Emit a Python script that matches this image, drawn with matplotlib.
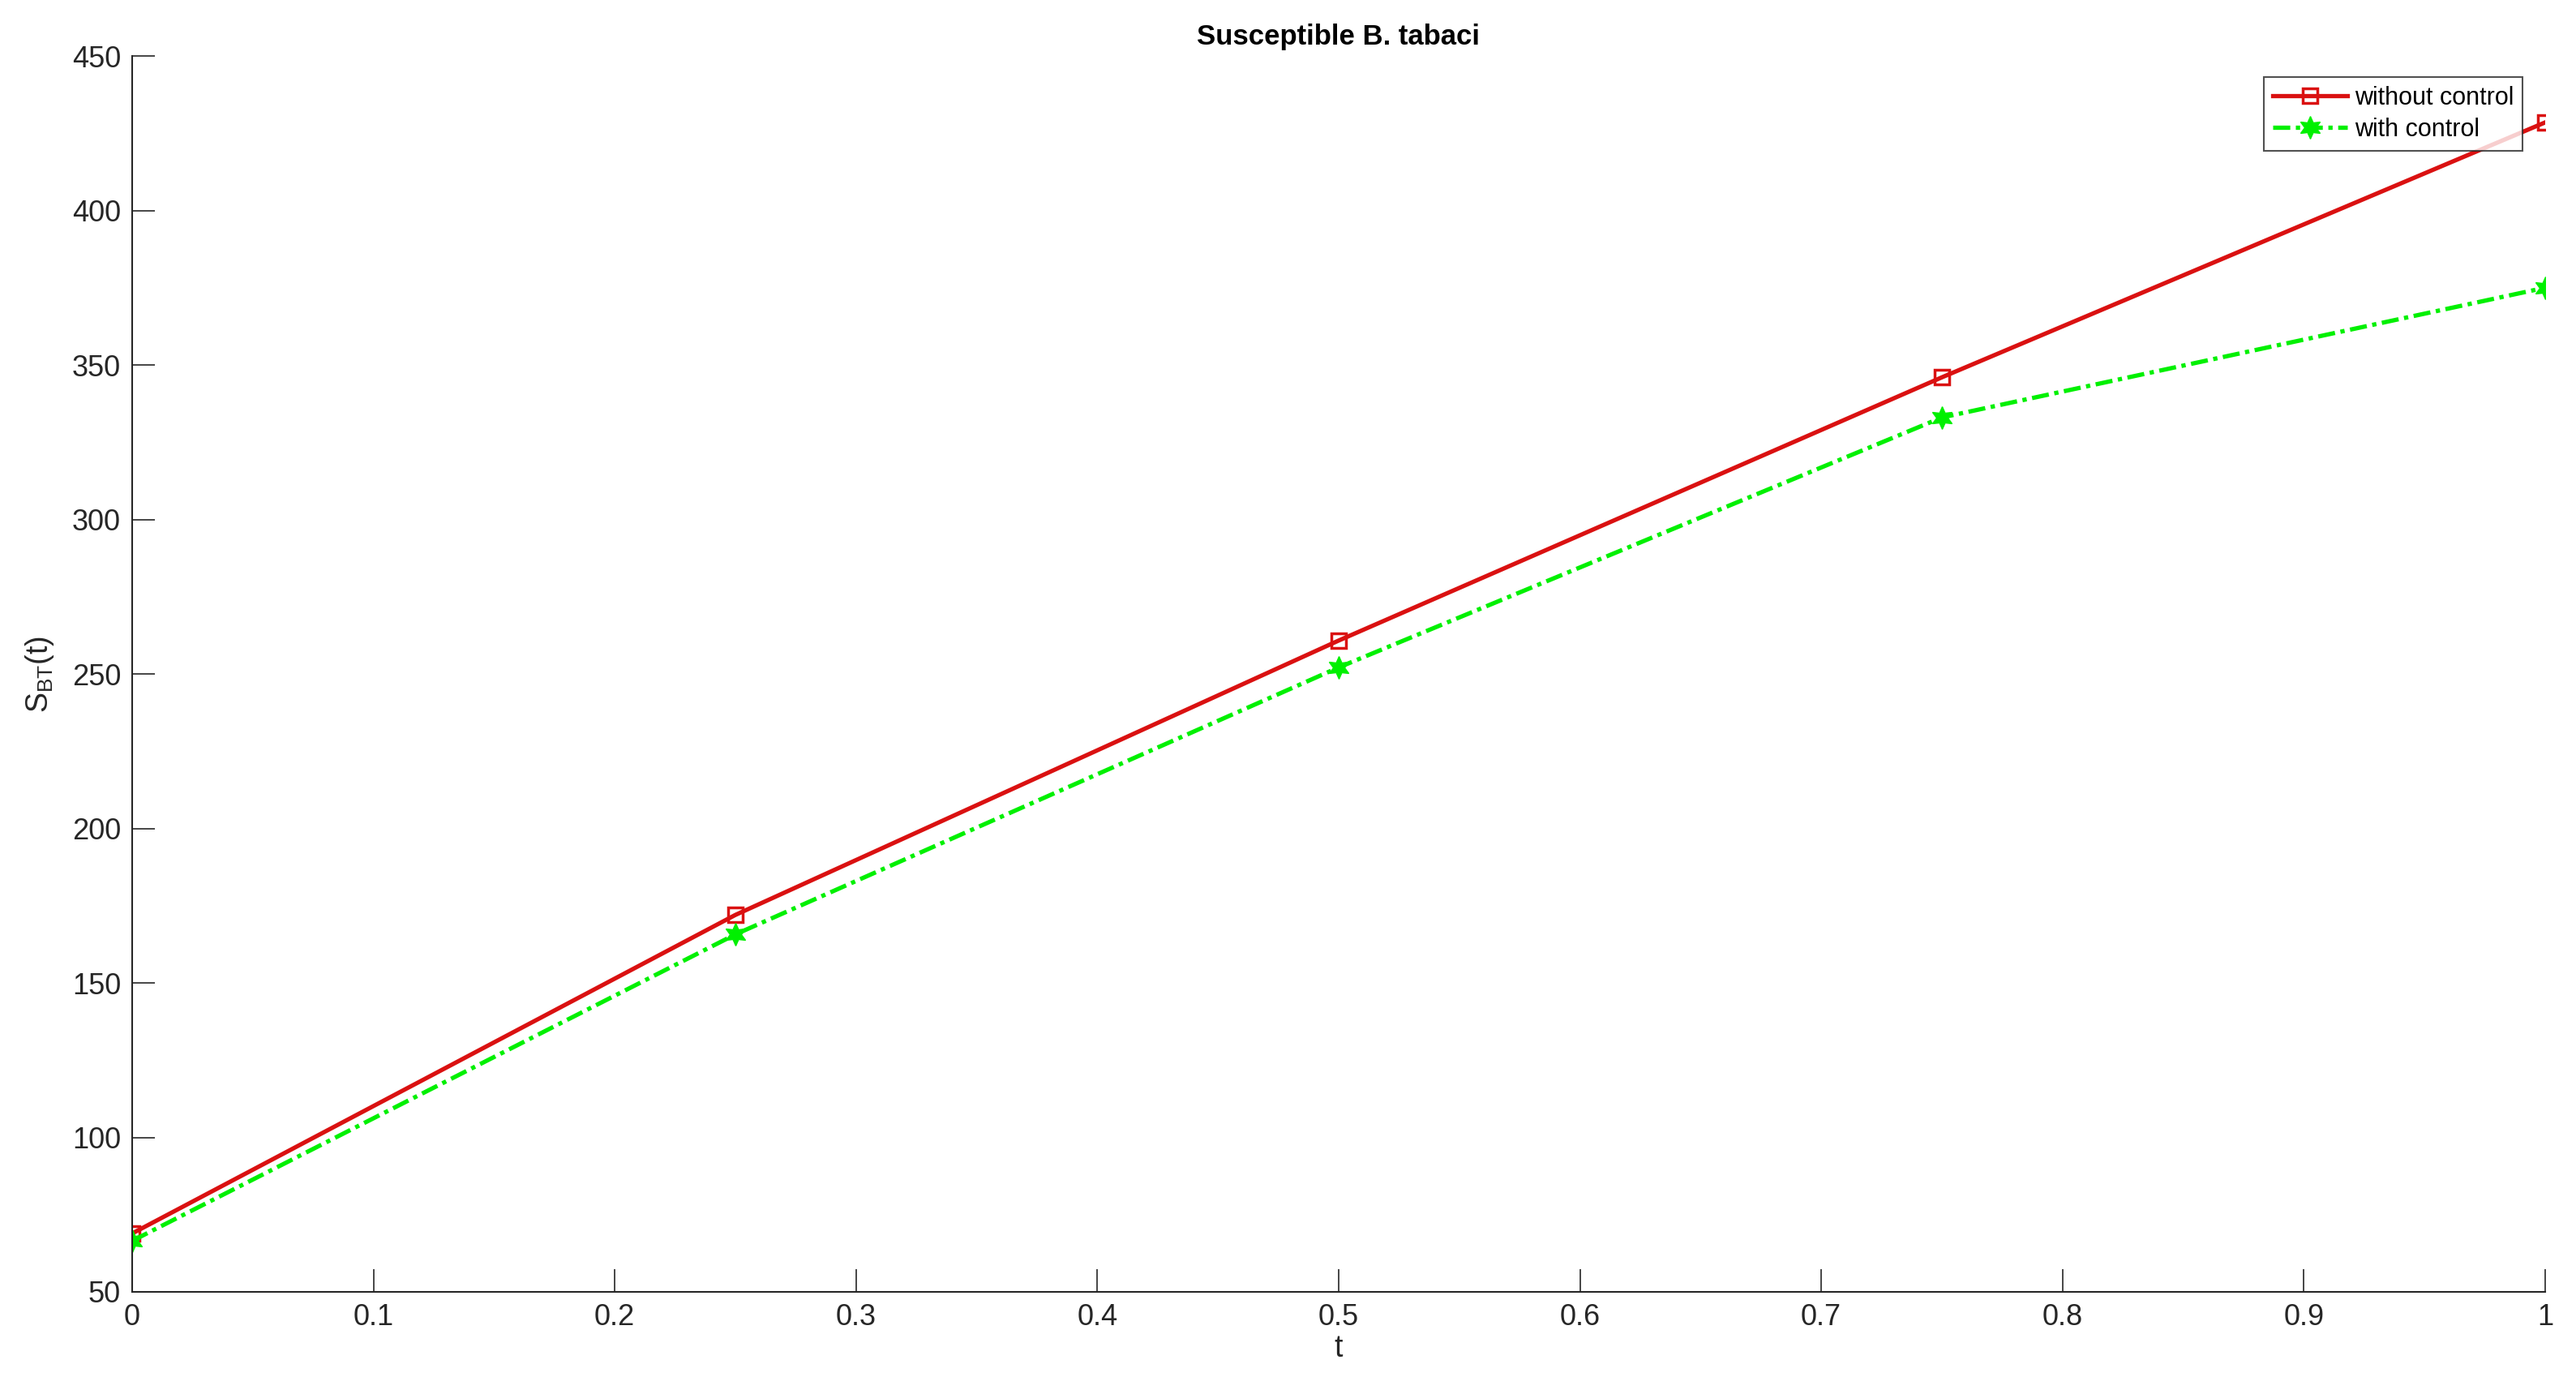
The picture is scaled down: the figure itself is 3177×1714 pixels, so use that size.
import numpy as np
import matplotlib.pyplot as plt
from matplotlib.ticker import MultipleLocator

plt.rcParams['font.family'] = ['Liberation Sans', 'DejaVu Sans']
plt.rcParams['mathtext.fontset'] = 'custom'
plt.rcParams['mathtext.rm'] = 'Liberation Sans'
plt.rcParams['mathtext.it'] = 'Liberation Sans'

# time points and the two solutions
t = [0, 0.25, 0.5, 0.75, 1.0]
without_control = [68.9, 172, 260.8, 346, 428.5]
with_control = [66.5, 165.7, 252.1, 333, 375]

fig = plt.figure(figsize=(31.77, 17.14), dpi=100)
ax = fig.add_axes([0.0513, 0.0706, 0.9367, 0.8891])

ax.plot(t, without_control, color='#DA1111', lw=3.8, marker='s', markersize=13,
        markerfacecolor='none', markeredgecolor='#DA1111', markeredgewidth=2.5,
        label='without control')
ax.plot(t, with_control, color='#00F000', lw=3.8, linestyle=(0, (4, 1.3, 1, 1.3)),
        marker=(6, 1, 0), markersize=20, markerfacecolor='#00F000',
        markeredgecolor='#00F000', label='with control')

ax.set_xlim(0, 1)
ax.set_ylim(50, 450)
ax.yaxis.set_major_locator(MultipleLocator(50))
ax.set_xticks(np.arange(0, 1.01, 0.1))
ax.set_xticklabels(['0', '0.1', '0.2', '0.3', '0.4', '0.5', '0.6', '0.7', '0.8', '0.9', '1'])

for s in ['top', 'right']:
    ax.spines[s].set_visible(False)
for s in ['left', 'bottom']:
    ax.spines[s].set_color('#262626')
    ax.spines[s].set_linewidth(1.5)

ax.tick_params(direction='in', length=20, width=1.2, labelsize=26,
               colors='#262626', pad=10)

ax.set_title('Susceptible B. tabaci', fontsize=25, fontweight='bold', pad=10)
ax.set_xlabel('t', fontsize=27, color='#262626', labelpad=2)
ax.set_ylabel(r'S$_{\rm BT}$(t)', fontsize=27, color='#262626', labelpad=14)

leg = ax.legend(loc='upper right', bbox_to_anchor=(0.9906, 0.983), fontsize=22,
                frameon=True, fancybox=False, edgecolor='#262626',
                handlelength=3.0, borderpad=0.35, labelspacing=0.3,
                handletextpad=0.3, borderaxespad=0)
leg.get_frame().set_linewidth(1.5)

fig.savefig('out.png', dpi=100)
